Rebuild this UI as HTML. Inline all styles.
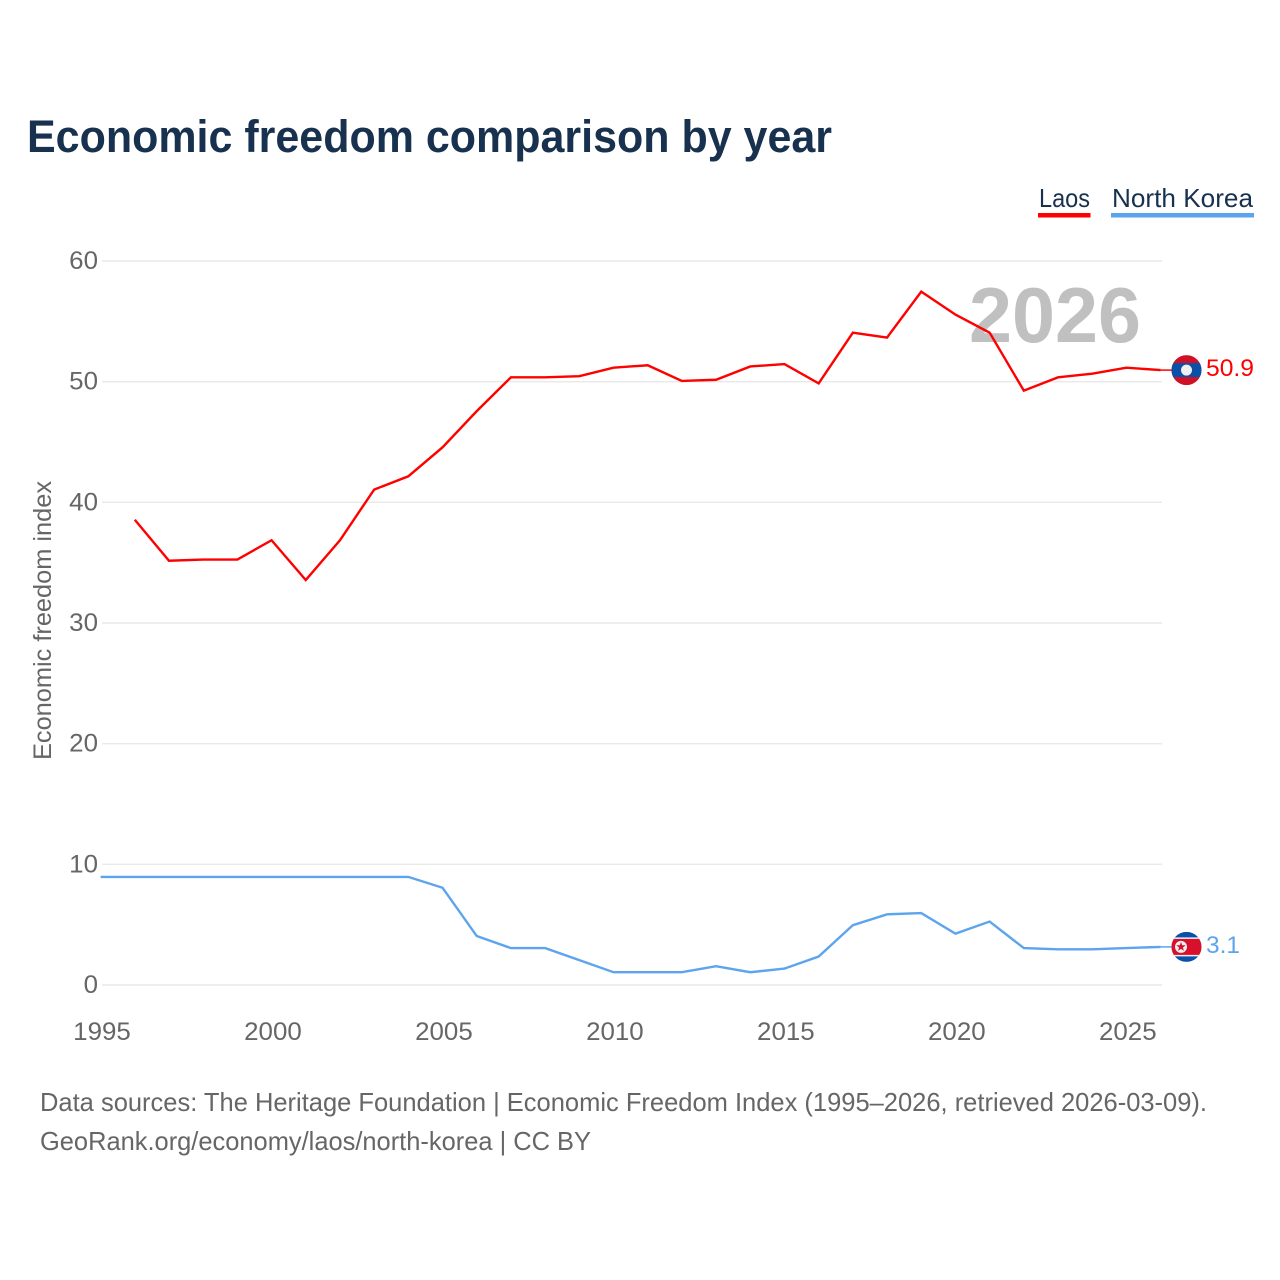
<!DOCTYPE html>
<html lang="en">
<head>
<meta charset="utf-8">
<title>Economic freedom comparison by year</title>
<style>
html,body{margin:0;padding:0;background:#fff;}
svg{display:block;font-family:"Liberation Sans",sans-serif;}
</style>
</head>
<body>
<svg id="chart" width="1280" height="1280" viewBox="0 0 1280 1280" xmlns="http://www.w3.org/2000/svg">
  <rect width="1280" height="1280" fill="#fff"/>
  <text x="27" y="152" font-size="45" font-weight="700" fill="#18314f" textLength="805" lengthAdjust="spacingAndGlyphs">Economic freedom comparison by year</text>

  <g id="legend">
    <g>
      <text x="1039" y="207" font-size="26" fill="#18314f" textLength="51" lengthAdjust="spacingAndGlyphs">Laos</text>
      <rect x="1038" y="213" width="52.5" height="4.5" fill="#ff0000"/>
    </g>
    <g>
      <text x="1112" y="207" font-size="26" fill="#18314f" textLength="141" lengthAdjust="spacingAndGlyphs">North Korea</text>
      <rect x="1111" y="213" width="143" height="4.5" fill="#5da4ee"/>
    </g>
  </g>

  <g id="grid"></g>
  <g id="yticks"></g>
  <g id="xticks"></g>

  <text transform="translate(51,760) rotate(-90)" font-size="25" fill="#666" textLength="279" lengthAdjust="spacingAndGlyphs">Economic freedom index</text>

  <text x="969" y="342" font-size="78" font-weight="700" fill="#c0c0c0" textLength="172" lengthAdjust="spacingAndGlyphs">2026</text>

  <polyline id="line-laos" fill="none" stroke="#ff0000" stroke-width="2.4" stroke-linejoin="miter"/>
  <polyline id="line-nk" fill="none" stroke="#5da4ee" stroke-width="2.4" stroke-linejoin="miter"/>
  <line id="leader-laos" stroke="#ff0000" stroke-width="1.5"/>
  <line id="leader-nk" stroke="#5da4ee" stroke-width="1.5"/>

  <defs>
    <clipPath id="clip-laos"><circle cx="0" cy="0" r="15"/></clipPath>
    <clipPath id="clip-nk"><circle cx="0" cy="0" r="15"/></clipPath>
  </defs>

  <g id="flag-laos" clip-path="url(#clip-laos)">
    <rect x="-15" y="-15" width="30" height="30" fill="#ce1126"/>
    <rect x="-15" y="-7" width="30" height="14" fill="#0a4fa8"/>
    <circle cx="0" cy="0" r="5.5" fill="#f0f0f0"/>
  </g>
  <g id="flag-nk" clip-path="url(#clip-nk)">
    <rect x="-15" y="-15" width="30" height="30" fill="#0a4fa8"/>
    <rect x="-15" y="-9.5" width="30" height="19" fill="#f0f0f0"/>
    <rect x="-15" y="-8" width="30" height="16" fill="#d8102c"/>
    <circle cx="-5.5" cy="0" r="6" fill="#f0f0f0"/>
    <polygon points="-5.5,-5 -4.3,-1.6 -0.8,-1.6 -3.6,0.6 -2.6,4 -5.5,2 -8.4,4 -7.4,0.6 -10.2,-1.6 -6.7,-1.6" fill="#d8102c"/>
  </g>

  <text id="value-laos" x="1206" font-size="24" fill="#ff0000" textLength="48" lengthAdjust="spacingAndGlyphs"></text>
  <text id="value-nk" x="1206" font-size="24" fill="#5da4ee" textLength="34" lengthAdjust="spacingAndGlyphs"></text>

  <text x="40" y="1111" font-size="26" fill="#666" textLength="1167" lengthAdjust="spacingAndGlyphs">Data sources: The Heritage Foundation | Economic Freedom Index (1995–2026, retrieved 2026-03-09).</text>
  <text x="40" y="1150" font-size="26" fill="#666" textLength="551" lengthAdjust="spacingAndGlyphs">GeoRank.org/economy/laos/north-korea | CC BY</text>
</svg>
<script>
const laosYears = [1996,1997,1998,1999,2000,2001,2002,2003,2004,2005,2006,2007,2008,2009,2010,2011,2012,2013,2014,2015,2016,2017,2018,2019,2020,2021,2022,2023,2024,2025,2026];
const laosValues = [38.5,35.1,35.2,35.2,36.8,33.5,36.8,41.0,42.1,44.5,47.5,50.3,50.3,50.4,51.1,51.3,50.0,50.1,51.2,51.4,49.8,54.0,53.6,57.4,55.5,54.0,49.2,50.3,50.6,51.1,50.9];
const nkYears = [1995,1996,1997,1998,1999,2000,2001,2002,2003,2004,2005,2006,2007,2008,2009,2010,2011,2012,2013,2014,2015,2016,2017,2018,2019,2020,2021,2022,2023,2024,2025,2026];
const nkValues = [8.9,8.9,8.9,8.9,8.9,8.9,8.9,8.9,8.9,8.9,8.0,4.0,3.0,3.0,2.0,1.0,1.0,1.0,1.5,1.0,1.3,2.3,4.9,5.8,5.9,4.2,5.2,3.0,2.9,2.9,3.0,3.1];
const yTickValues = [0,10,20,30,40,50,60];
const xTickValues = [1995,2000,2005,2010,2015,2020,2025];

const NS = 'http://www.w3.org/2000/svg';
const plotLeft = 102, plotRight = 1162, plotBottom = 985, plotTop = 261;
const lineShiftX = -1.4, lineShiftY = -0.7;
function xScale(year){ return plotLeft + (year - 1995) * (plotRight - plotLeft) / (2026 - 1995); }
function yScale(value){ return plotBottom - value * (plotBottom - plotTop) / 60; }
function pointsFor(years, values){ return years.map(function(y,i){ return (xScale(y) + lineShiftX).toFixed(2) + ',' + (yScale(values[i]) + lineShiftY).toFixed(2); }).join(' '); }

const gridGroup = document.getElementById('grid');
const yTickGroup = document.getElementById('yticks');
const xTickGroup = document.getElementById('xticks');

yTickValues.forEach(function(v){
  const line = document.createElementNS(NS,'line');
  
  
  line.setAttribute('x1', plotLeft);
  line.setAttribute('x2', plotRight);
  line.setAttribute('y1', yScale(v));
  line.setAttribute('y2', yScale(v));
  line.setAttribute('stroke', '#e9e9e9');
  line.setAttribute('stroke-width', '1.4');
  gridGroup.appendChild(line);

  const label = document.createElementNS(NS,'text');
  
  
  label.textContent = String(v);
  label.setAttribute('x', 98);
  label.setAttribute('y', yScale(v) + 8);
  label.setAttribute('text-anchor', 'end');
  label.setAttribute('font-size', '25');
  label.setAttribute('fill', '#666');
  label.setAttribute('textLength', String(v).length * 14.4);
  label.setAttribute('lengthAdjust', 'spacingAndGlyphs');
  yTickGroup.appendChild(label);
});

xTickValues.forEach(function(v){
  const label = document.createElementNS(NS,'text');
  
  
  label.textContent = String(v);
  label.setAttribute('x', xScale(v));
  label.setAttribute('y', 1040);
  label.setAttribute('text-anchor', 'middle');
  label.setAttribute('font-size', '25');
  label.setAttribute('fill', '#666');
  label.setAttribute('textLength', String(v).length * 14.4);
  label.setAttribute('lengthAdjust', 'spacingAndGlyphs');
  xTickGroup.appendChild(label);
});

document.getElementById('line-laos').setAttribute('points', pointsFor(laosYears, laosValues));
document.getElementById('line-nk').setAttribute('points', pointsFor(nkYears, nkValues));

function placeEnd(prefix, values){
  const last = values[values.length - 1];
  const py = yScale(last) + lineShiftY;
  const leader = document.getElementById('leader-' + prefix);
  leader.setAttribute('x1', plotRight + lineShiftX);
  leader.setAttribute('x2', plotRight + 10);
  leader.setAttribute('y1', py);
  leader.setAttribute('y2', py);
  document.getElementById('flag-' + prefix).setAttribute('transform', 'translate(1186.5,' + py + ')');
  const label = document.getElementById('value-' + prefix);
  label.textContent = last.toFixed(1);
  label.setAttribute('y', py + 6);
}
placeEnd('laos', laosValues);
placeEnd('nk', nkValues);
</script>
</body>
</html>
